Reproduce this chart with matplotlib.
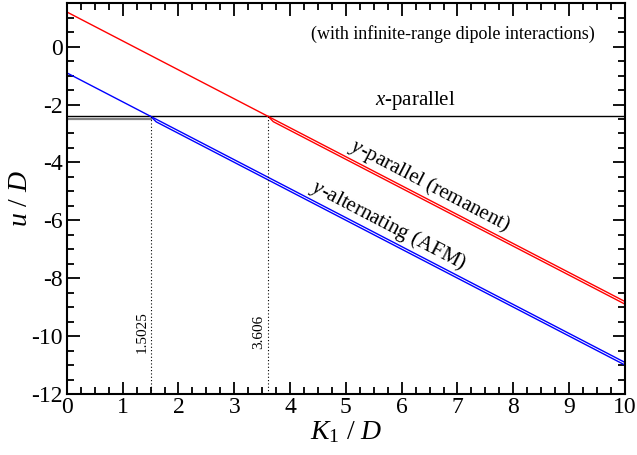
import matplotlib
matplotlib.use("Agg")
import matplotlib.pyplot as plt
from matplotlib.ticker import MultipleLocator

# energies per site (u/D) vs K1/D
k1_range = [0, 10]
u_x_parallel = [-2.41, -2.41]
u_y_parallel = [1.196, -8.804]
u_y_alternating = [-0.9075, -10.9075]

# second branches drawn just below the main lines after the crossings
k_ypar_branch = [3.606, 3.7, 10]
u_ypar_branch = [-2.41, -2.594, -8.894]
k_yalt_branch = [1.5025, 1.6, 10]
u_yalt_branch = [-2.41, -2.5975, -10.9975]
k_xpar_branch = [0, 1.5025]
u_xpar_branch = [-2.5, -2.5]

crossings = [1.5025, 3.606]
crossing_labels = ["1.5025", "3.606"]

plt.rcParams["font.family"] = ["Liberation Serif", "DejaVu Serif"]
plt.rcParams["mathtext.fontset"] = "custom"
plt.rcParams["mathtext.rm"] = "Liberation Serif"
plt.rcParams["mathtext.it"] = "Liberation Serif:italic"
plt.rcParams["axes.unicode_minus"] = False

fig = plt.figure(figsize=(6.37, 4.55), dpi=100)
ax = fig.add_axes([0.105, 0.134, 0.876, 0.859])

ax.plot(k1_range, u_x_parallel, color="black", lw=1.0)
ax.plot(k_xpar_branch, u_xpar_branch, color="gray", lw=1.6)
ax.plot(k1_range, u_y_parallel, color="red", lw=1.0)
ax.plot(k_ypar_branch, u_ypar_branch, color="red", lw=1.0)
ax.plot(k1_range, u_y_alternating, color="blue", lw=1.0)
ax.plot(k_yalt_branch, u_yalt_branch, color="blue", lw=1.0)

for kc, lab in zip(crossings, crossing_labels):
    ax.plot([kc, kc], [-12, u_x_parallel[0]], color="black", lw=0.8, ls=(0, (1, 2)))
    ax.text(kc - 0.16, -9.85, lab, rotation=90, ha="center", va="center", fontsize=11)

ax.text(6.92, 0.45, "(with infinite-range dipole interactions)", ha="center", va="center", fontsize=13)
ax.text(6.25, -2.25, "$\\mathit{x}$-parallel", ha="center", va="bottom", fontsize=15)
ax.text(6.5, -4.8, "$\\mathit{y}$-parallel (remanent)", ha="center", va="center",
        rotation=-27.5, rotation_mode="anchor", fontsize=15)
ax.text(5.75, -6.17, "$\\mathit{y}$-alternating (AFM)", ha="center", va="center",
        rotation=-27.5, rotation_mode="anchor", fontsize=15)

ax.set_xlim(0, 10)
ax.set_ylim(-12, 1.5)
ax.xaxis.set_major_locator(MultipleLocator(1))
ax.xaxis.set_minor_locator(MultipleLocator(0.25))
ax.yaxis.set_major_locator(MultipleLocator(2))
ax.yaxis.set_minor_locator(MultipleLocator(0.5))
ax.tick_params(which="both", direction="in", top=True, right=True, width=1.3, labelsize=17)
ax.tick_params(which="major", length=9, pad=2)
ax.tick_params(which="minor", length=5)
ax.tick_params(axis="y", which="major", pad=3)
for s in ax.spines.values():
    s.set_linewidth(1.5)

ax.set_xlabel("$\\mathit{K}_1$ / $\\mathit{D}$", fontsize=20, labelpad=1)
ax.set_ylabel("$\\mathit{u}$ / $\\mathit{D}$", fontsize=20, labelpad=-1)

fig.savefig("out.png", dpi=100)
